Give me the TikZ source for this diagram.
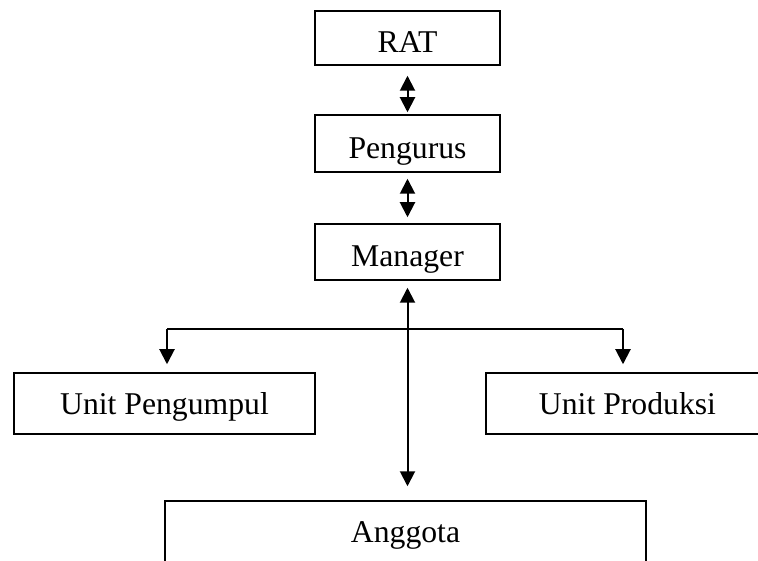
\documentclass[tikz,border=0pt]{standalone}
\usepackage{fontspec}
\setmainfont{Liberation Serif}
\usetikzlibrary{arrows.meta}
\begin{document}
\begin{tikzpicture}[x=1pt,y=1pt,
  box/.style={draw,line width=1.5pt,rectangle,inner sep=0pt,
    font=\fontsize{31.7}{38}\selectfont},
  upbox/.style={box,text height=30pt,text depth=0pt},
  lowbox/.style={box,text height=21.6pt,text depth=0pt},
  conn/.style={line width=2pt,{Triangle[length=15pt,width=15pt]}-{Triangle[length=15pt,width=15pt]}},
  oneway/.style={line width=2pt,-{Triangle[length=15pt,width=15pt]}}]
\clip (0,0) rectangle (758,-561);
\useasboundingbox (0,0) rectangle (758,-561);
\node[upbox,minimum width=185pt,minimum height=54pt] (rat) at (407.5,-38) {RAT};
\node[upbox,minimum width=185pt,minimum height=57pt] (peng) at (407.5,-143.5) {Pengurus};
\node[upbox,minimum width=185pt,minimum height=56pt] (man) at (407.5,-252) {Manager};
\node[lowbox,minimum width=301pt,minimum height=61pt] (up) at (164.5,-403.5) {Unit Pengumpul};
\node[lowbox,minimum width=283pt,minimum height=61pt] (upr) at (627.5,-403.5) {Unit Produksi};
\node[lowbox,minimum width=481pt,minimum height=62pt] (ang) at (405.5,-532) {Anggota};
\draw[conn] ([yshift=-10pt]rat.south) -- ([yshift=2pt]peng.north);
\draw[conn] ([yshift=-6pt]peng.south) -- ([yshift=6pt]man.north);
\draw[conn] ([yshift=-7pt]man.south) -- ([yshift=14pt]man.south |- ang.north);
\coordinate (jl) at (167,-329);
\coordinate (jr) at (623,-329);
\draw[line width=2pt] (jl) -- (jr);
\draw[oneway] (jl) -- ([xshift=2.5pt,yshift=8pt]up.north);
\draw[oneway] (jr) -- ([xshift=-4.5pt,yshift=8pt]upr.north);
\end{tikzpicture}
\end{document}
